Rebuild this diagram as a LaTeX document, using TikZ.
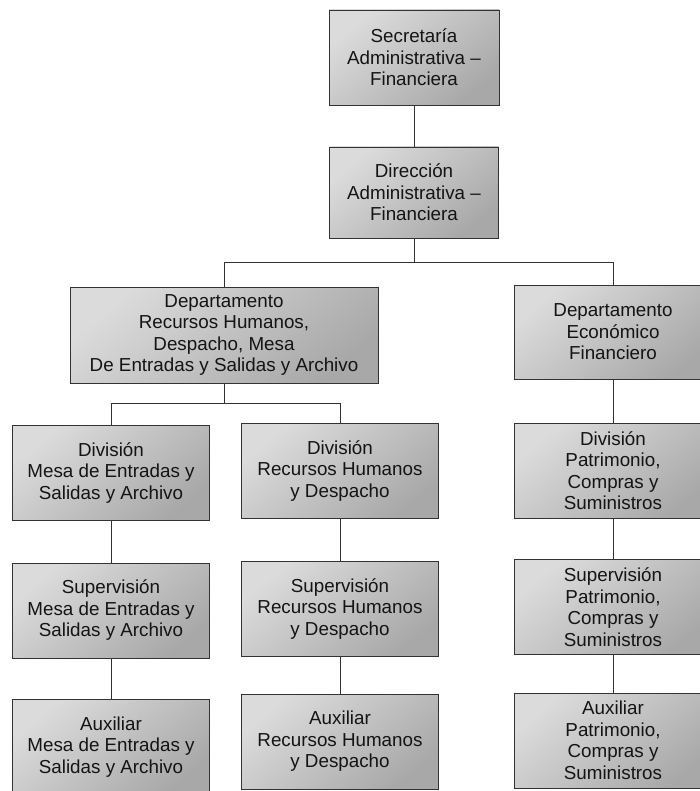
\documentclass[tikz,border=0pt]{standalone}
\usepackage{fontspec}
\setmainfont{Liberation Sans}
\begin{document}
\begin{tikzpicture}[x=1pt,y=-1pt,
  unit/.style={draw=black!80, line width=0.7pt, shading=axis,
    top color=black!14, bottom color=black!34, shading angle=40,
    align=center, inner sep=0pt, text=black!92,
    minimum width=197pt, minimum height=95pt,
    font=\fontsize{18.8}{21.5}\selectfont},
  link/.style={draw=black!80, line width=0.7pt}]
\useasboundingbox (0,0) rectangle (700,791);
\clip (0,0) rectangle (700,791);
\fill[white] (0,0) rectangle (700,791);

% top levels
\node[unit, minimum width=170pt, minimum height=95pt] (sec) at (414,57.5)
  {Secretaría\\Administrativa –\\Financiera};
\node[unit, minimum width=169pt, minimum height=91pt] (dir) at (414,192.5)
  {Dirección\\Administrativa –\\Financiera};

% departments
\node[unit, minimum width=308pt, minimum height=96pt] (drh) at (224,335)
  {Departamento\\Recursos Humanos,\\Despacho, Mesa\\De Entradas y Salidas y Archivo};
\node[unit, minimum width=198pt, minimum height=94pt] (dec) at (613,332)
  {Departamento\\Económico\\Financiero};

% divisions
\node[unit] (dvm) at (111,473) {División\\Mesa de Entradas y\\Salidas y Archivo};
\node[unit] (dvr) at (340,471) {División\\Recursos Humanos\\y Despacho};
\node[unit] (dvp) at (613,470.5) {División\\Patrimonio,\\Compras y\\Suministros};

% supervisions
\node[unit] (spm) at (111,610.5) {Supervisión\\Mesa de Entradas y\\Salidas y Archivo};
\node[unit] (spr) at (340,609) {Supervisión\\Recursos Humanos\\y Despacho};
\node[unit] (spp) at (613,607) {Supervisión\\Patrimonio,\\Compras y\\Suministros};

% auxiliaries
\node[unit] (axm) at (111,747) {Auxiliar\\Mesa de Entradas y\\Salidas y Archivo};
\node[unit] (axr) at (340,741.5) {Auxiliar\\Recursos Humanos\\y Despacho};
\node[unit] (axp) at (613,740.5) {Auxiliar\\Patrimonio,\\Compras y\\Suministros};

% bus lines
\coordinate (busA) at (414,262);
\coordinate (busB) at (224,403);

% connectors
\draw[link] (sec.south) -- (dir.north);
\draw[link] (dir.south) -- (dir.south |- busA) -| (drh.north);
\draw[link] (dir.south |- busA) -| (dec.north);
\draw[link] (drh.south) -- (drh.south |- busB) -| (dvm.north);
\draw[link] (drh.south |- busB) -| (dvr.north);
\draw[link] (dec.south) -- (dvp.north);
\draw[link] (dvm.south) -- (spm.north);
\draw[link] (spm.south) -- (axm.north);
\draw[link] (dvr.south) -- (spr.north);
\draw[link] (spr.south) -- (axr.north);
\draw[link] (dvp.south) -- (spp.north);
\draw[link] (spp.south) -- (axp.north);
\end{tikzpicture}
\end{document}
